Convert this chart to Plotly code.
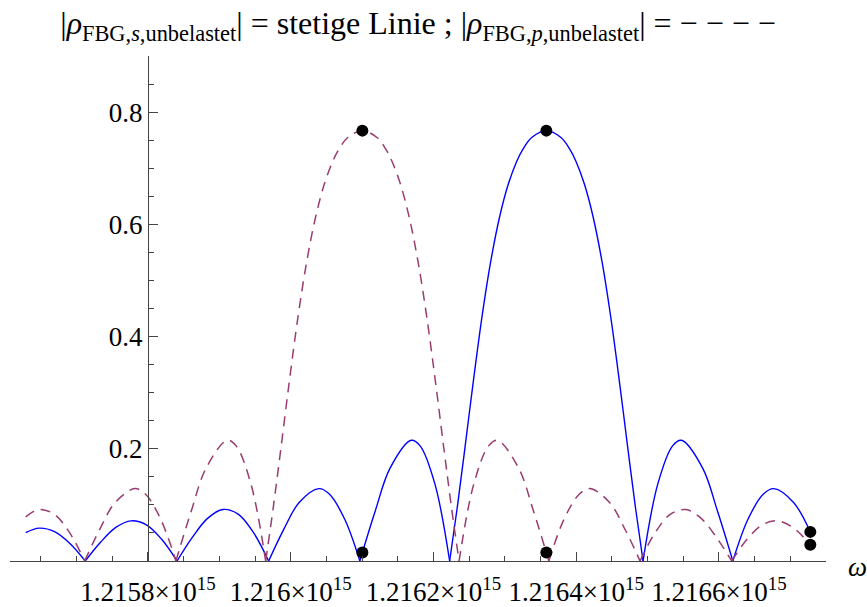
import plotly.graph_objects as go

# Angular frequency in units of 10^15 rad/s; None separates the lobes between zeros
omega_s = [
    1.21562865, 1.2156477, 1.2156691, 1.2156906, 1.2157121, None,
    1.2157121, 1.2157335, 1.2157549, 1.2157764, 1.2157978, 1.2158192, 1.2158407, None,
    1.2158407, 1.2158621, 1.2158835, 1.2159049, 1.2159263, 1.2159477, 1.2159691, None,
    1.2159691, 1.2159904, 1.2160118, 1.2160394, 1.2160544, 1.2160757, 1.2160969, None,
    1.2160969, 1.2161181, 1.2161392, 1.2161688, 1.2161813, 1.2162021, 1.2162227, None,
    1.2162227, 1.2162330, 1.2162433, 1.2162556, 1.2162679, 1.2162802, 1.2162925,
    1.2163048, 1.2163166, 1.2163254, 1.2163377, 1.2163582, 1.2163787, 1.2163910,
    1.2163998, 1.2164116, 1.2164239, 1.2164362, 1.2164485, 1.2164608, 1.2164731,
    1.2164834, 1.2164937, None,
    1.2164937, 1.2165143, 1.2165351, 1.2165476, 1.2165772, 1.2165983, 1.2166195, None,
    1.2166195, 1.2166407, 1.2166620, 1.2166770, 1.2167046, 1.21672805,
]
rho_s = [
    0.0505, 0.0586, 0.0523, 0.0312, 0.0, None,
    0.0, 0.0334, 0.0598, 0.0715, 0.0644, 0.0387, 0.0, None,
    0.0, 0.0421, 0.0760, 0.0918, 0.0836, 0.0509, 0.0, None,
    0.0, 0.0569, 0.1042, 0.1290, 0.1189, 0.0743, 0.0, None,
    0.0, 0.0877, 0.1654, 0.2151, 0.2052, 0.1370, 0.0, None,
    0.0, 0.0922, 0.1933, 0.3176, 0.4342, 0.5334, 0.6122,
    0.6713, 0.7120, 0.7340, 0.7547, 0.7670, 0.7547, 0.7340,
    0.7120, 0.6713, 0.6122, 0.5334, 0.4342, 0.3176, 0.1933,
    0.0922, 0.0, None,
    0.0, 0.1370, 0.2052, 0.2151, 0.1654, 0.0877, 0.0, None,
    0.0, 0.0743, 0.1189, 0.1290, 0.1042, 0.0519,
]

omega_p = [
    1.21562865, 1.2156471, 1.2156685, 1.2156899, 1.2157113, None,
    1.2157113, 1.2157326, 1.2157540, 1.2157816, 1.2157966, 1.2158179, 1.2158391, None,
    1.2158391, 1.2158603, 1.2158814, 1.2159110, 1.2159235, 1.2159443, 1.2159649, None,
    1.2159649, 1.2159752, 1.2159855, 1.2159978, 1.2160101, 1.2160224, 1.2160347,
    1.2160470, 1.2160588, 1.2160676, 1.2160799, 1.2161004, 1.2161209, 1.2161332,
    1.2161420, 1.2161538, 1.2161661, 1.2161784, 1.2161907, 1.2162030, 1.2162153,
    1.2162256, 1.2162359, None,
    1.2162359, 1.2162565, 1.2162773, 1.2162898, 1.2163194, 1.2163405, 1.2163617, None,
    1.2163617, 1.2163829, 1.2164042, 1.2164192, 1.2164468, 1.2164682, 1.2164895, None,
    1.2164895, 1.2165109, 1.2165323, 1.2165537, 1.2165751, 1.2165965, 1.2166179, None,
    1.2166179, 1.2166394, 1.2166608, 1.2166822, 1.2167037, 1.21672805,
]
rho_p = [
    0.0786, 0.0918, 0.0836, 0.0509, 0.0, None,
    0.0, 0.0569, 0.1042, 0.1290, 0.1189, 0.0743, 0.0, None,
    0.0, 0.0877, 0.1654, 0.2151, 0.2052, 0.1370, 0.0, None,
    0.0, 0.0922, 0.1933, 0.3176, 0.4342, 0.5334, 0.6122,
    0.6713, 0.7120, 0.7340, 0.7547, 0.7670, 0.7547, 0.7340,
    0.7120, 0.6713, 0.6122, 0.5334, 0.4342, 0.3176, 0.1933,
    0.0922, 0.0, None,
    0.0, 0.1370, 0.2052, 0.2151, 0.1654, 0.0877, 0.0, None,
    0.0, 0.0743, 0.1189, 0.1290, 0.1042, 0.0569, 0.0, None,
    0.0, 0.0509, 0.0836, 0.0918, 0.0760, 0.0421, 0.0, None,
    0.0, 0.0387, 0.0644, 0.0715, 0.0598, 0.0291,
]

# Marked points: the two maxima, the other polarisation at the same frequency, and the end values
omega_marks = [1.2161004, 1.2161004, 1.2163582, 1.2163582, 1.21672805, 1.21672805]
rho_marks = [0.767, 0.0153, 0.767, 0.0153, 0.0519, 0.0291]

x_tickvals = [1.2158, 1.2160, 1.2162, 1.2164, 1.2166]
x_ticktext = ["1.2158×10<sup>15</sup>", "1.216×10<sup>15</sup>", "1.2162×10<sup>15</sup>",
              "1.2164×10<sup>15</sup>", "1.2166×10<sup>15</sup>"]
y_tickvals = [0.2, 0.4, 0.6, 0.8]
y_ticktext = ["0.2", "0.4", "0.6", "0.8"]

x_origin = 1.2158
x_range = [1.21560666, 1.21675004]
y_range = [0.0, 0.9]

serif = "Liberation Serif"
axis_col = "#444444"

fig = go.Figure()
fig.add_trace(go.Scatter(
    x=omega_s, y=rho_s, mode="lines", connectgaps=False,
    line=dict(color="#0000ff", width=1.4, shape="spline", smoothing=1.0),
    hoverinfo="skip", showlegend=False,
))
fig.add_trace(go.Scatter(
    x=omega_p, y=rho_p, mode="lines", connectgaps=False,
    line=dict(color="#993d71", width=1.5, dash="10px,7px", shape="spline", smoothing=1.0),
    hoverinfo="skip", showlegend=False,
))
fig.add_trace(go.Scatter(
    x=omega_marks, y=rho_marks, mode="markers",
    marker=dict(color="black", size=12),
    hoverinfo="skip", showlegend=False,
))

title = ("|<i>ρ</i><sub>FBG,<i>s</i>,unbelastet</sub>| = stetige Linie ; "
         "|<i>ρ</i><sub>FBG,<i>p</i>,unbelastet</sub>| = − − − −")

yaxis_pos = (x_origin - x_range[0]) / (x_range[1] - x_range[0])

fig.update_layout(
    width=867, height=607, autosize=False,
    margin=dict(l=10, r=41, t=56, b=46, autoexpand=False),
    paper_bgcolor="white", plot_bgcolor="white",
    font=dict(family=serif, color="black", size=27),
    title=dict(text=title, x=0.5, xanchor="center", y=0.962, yanchor="middle",
               xref="paper", yref="container", automargin=False,
               font=dict(family=serif, size=32, color="black")),
    xaxis=dict(
        range=x_range, showgrid=False, zeroline=False, automargin=False,
        showline=True, linecolor=axis_col, linewidth=1,
        ticks="inside", ticklen=9, tickwidth=1, tickcolor=axis_col,
        tickmode="array", tickvals=x_tickvals, ticktext=x_ticktext,
        tickfont=dict(family=serif, size=27, color="black"),
        ticklabelstandoff=7,
        minor=dict(ticks="inside", ticklen=5, tickwidth=1, tickcolor=axis_col,
                   tickmode="linear", tick0=x_origin, dtick=0.00005, showgrid=False),
    ),
    yaxis=dict(
        range=y_range, showgrid=False, zeroline=False, automargin=False,
        anchor="free", position=yaxis_pos,
        showline=True, linecolor=axis_col, linewidth=1,
        ticks="inside", ticklen=9, tickwidth=1, tickcolor=axis_col,
        tickmode="array", tickvals=y_tickvals, ticktext=y_ticktext,
        tickfont=dict(family=serif, size=27, color="black"),
        minor=dict(ticks="inside", ticklen=5, tickwidth=1, tickcolor=axis_col,
                   tickmode="linear", tick0=0, dtick=0.05, showgrid=False),
    ),
    annotations=[dict(
        text="<i>ω</i>", xref="paper", yref="paper", x=1.038, y=-0.011,
        xanchor="center", yanchor="middle", showarrow=False,
        font=dict(family=serif, size=27, color="black"),
    )],
)

fig.write_html("out.html")
